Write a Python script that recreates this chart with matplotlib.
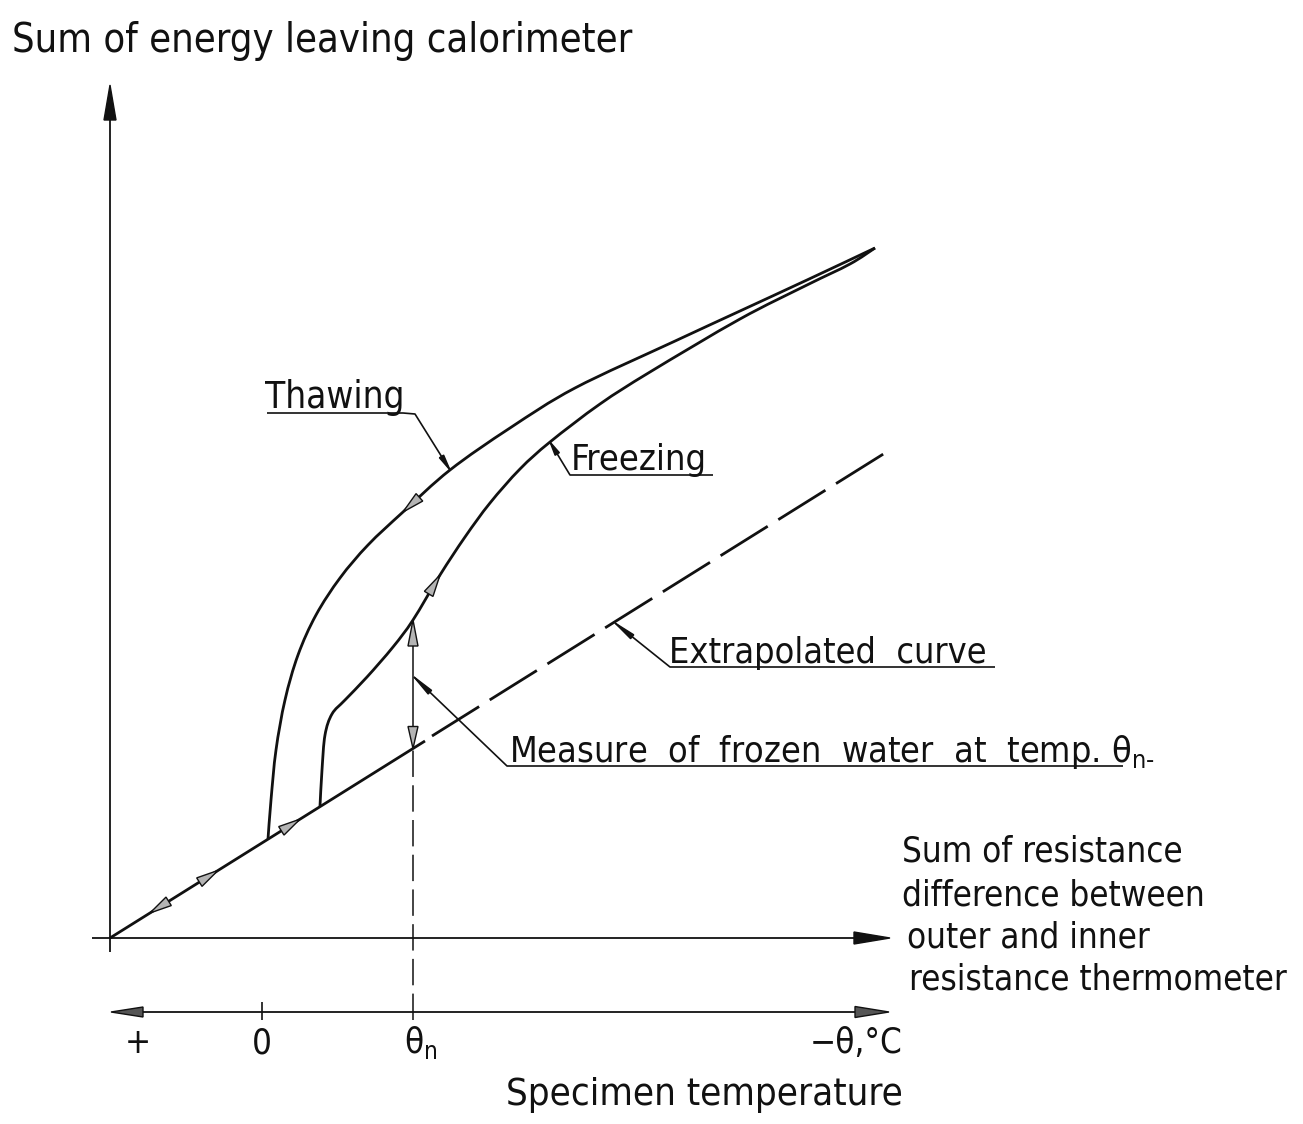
import numpy as np
import matplotlib
matplotlib.use("Agg")
import matplotlib.pyplot as plt
from matplotlib.path import Path
from matplotlib.patches import PathPatch, Polygon

# ---------------------------------------------------------------------------
# Diagram data (units: origin where the energy and resistance axes cross)
# ---------------------------------------------------------------------------
thawing_x = [158, 161, 166, 175, 188, 206, 230, 258, 293, 340, 400, 465, 563, 630, 697, 765]
thawing_y = [99, 138, 188, 238, 283, 323, 360, 393, 426, 468, 510, 550, 596, 627, 658, 690]

freezing_x = [210, 212, 215, 222, 235, 257, 283, 303, 330, 355, 380, 410, 440,
              490, 540, 630, 697, 740, 765]
freezing_y = [132, 168, 203, 224, 238, 261, 291, 318, 363, 401, 435, 469, 496,
              534, 566, 619, 653, 674, 690]

linear_x = [0, 315]
linear_y = [0, 197]
extrapolated_x = [322, 783]
extrapolated_y = [202, 490]

theta_n = 303

temp_tick_x = [28, 152, 303, 793]
temp_tick_labels = ["+", "0", "θ$_\\mathregular{n}$", "−θ,°C"]

title_text = "Sum of energy leaving calorimeter"
resistance_text = ["Sum of resistance", "difference between",
                   "outer and inner", "resistance thermometer"]
temperature_text = "Specimen temperature"
thawing_text = "Thawing"
freezing_text = "Freezing"
extrapolated_text = "Extrapolated  curve"
measure_text = "Measure  of  frozen  water  at  temp. θ$_\\mathregular{n\u2010}$"

# ---------------------------------------------------------------------------
plt.rcParams["font.family"] = ["DejaVu Sans"]
plt.rcParams["font.stretch"] = "condensed"
plt.rcParams["mathtext.fontset"] = "dejavusans"
plt.rcParams["lines.scale_dashes"] = False
plt.rcParams["lines.solid_capstyle"] = "butt"

W, H = 1303, 1124
fig = plt.figure(figsize=(W / 100, H / 100), dpi=100)
ax = fig.add_axes([0, 0, 1, 1])
ax.set_xlim(-110, W - 110)
ax.set_ylim(938 - H, 938)
ax.axis("off")

INK = "#111111"


def smooth_path(xs, ys):
    """Catmull-Rom curve through the given points, as cubic Bezier segments."""
    P = np.column_stack([xs, ys]).astype(float)
    ext = np.vstack([P[0], P, P[-1]])
    verts = [P[0]]
    codes = [Path.MOVETO]
    for i in range(len(P) - 1):
        p0, p1, p2, p3 = ext[i], ext[i + 1], ext[i + 2], ext[i + 3]
        verts += [p1 + (p2 - p0) / 6, p2 - (p3 - p1) / 6, p2]
        codes += [Path.CURVE4] * 3
    return Path(verts, codes)


def head(tip, frm, length, width, fc, lw=1.0, z=5):
    """Triangular arrow head with its point at `tip`, coming from `frm`."""
    tip = np.asarray(tip, float)
    frm = np.asarray(frm, float)
    d = tip - frm
    d /= np.hypot(*d)
    n = np.array([-d[1], d[0]])
    b = tip - d * length
    ax.add_patch(Polygon([tip, b + n * width / 2, b - n * width / 2], closed=True,
                         fc=fc, ec=INK, lw=lw, joinstyle="miter", zorder=z))


# --- axes -----------------------------------------------------------------
ax.plot([0, 0], [-14, 825], color=INK, lw=1.3)
head((0, 853), (0, 800), 35, 12, INK)
ax.plot([-18, 750], [0, 0], color=INK, lw=1.3)
head((780, 0), (700, 0), 36, 12, INK)

# temperature scale
ty = -74
ax.plot([25, 755], [ty, ty], color=INK, lw=1.3)
head((1, ty), (60, ty), 32, 10, "#555555")
head((779, ty), (700, ty), 34, 11, "#555555")
ax.plot([temp_tick_x[1]] * 2, [ty + 10, ty - 8], color=INK, lw=1.2)

# --- curves ---------------------------------------------------------------
ax.plot(linear_x, linear_y, color=INK, lw=2.0)
ax.plot(extrapolated_x, extrapolated_y, color=INK, lw=2.0, dashes=(40, 9))
ax.add_patch(PathPatch(smooth_path(thawing_x, thawing_y), fc="none", ec=INK, lw=2.0))
ax.add_patch(PathPatch(smooth_path(freezing_x, freezing_y), fc="none", ec=INK, lw=2.0))

GREY = "#b4b4b4"
# direction marks on the curves
head((thawing_x[8], thawing_y[8]), (thawing_x[9], thawing_y[9]), 22, 10, GREY)
head((freezing_x[8], freezing_y[8]), (freezing_x[7], freezing_y[7]), 22, 10, GREY)
for u, back in [(40, 60), (108, 90), (190, 170)]:
    head((u, np.interp(u, linear_x, linear_y)),
         (back, np.interp(back, linear_x, linear_y)), 22, 10, GREY)

# frozen-water measure at theta_n
y_lin = np.interp(theta_n, linear_x, linear_y)
y_frz = np.interp(theta_n, freezing_x, freezing_y)
ax.plot([theta_n, theta_n], [y_lin, y_frz], color=INK, lw=1.1)
ax.plot([theta_n, theta_n], [ty - 8, y_lin], color=INK, lw=1.1, dashes=(19, 6))
head((theta_n, y_frz), (theta_n, y_frz - 40), 26, 10, GREY)
head((theta_n, y_lin), (theta_n, y_lin + 40), 22, 10, GREY)

# --- labels with leaders -------------------------------------------------
LW = 1.2
# Thawing
ax.plot([157, 293, 305, 340], [525, 525, 524, 468], color=INK, lw=LW)
head((340, 468), (305, 524), 16, 5, INK)
# Freezing
ax.plot([440, 460, 603], [496, 463, 463], color=INK, lw=LW)
head((440, 496), (460, 463), 14, 5, INK)
# Extrapolated curve
ax.plot([505, 560, 885], [315, 271, 271], color=INK, lw=LW)
head((505, 315), (560, 271), 22, 5, INK)
# Measure of frozen water
ax.plot([304, 397, 1013], [261, 172, 172], color=INK, lw=LW)
head((304, 261), (397, 172), 22, 5, INK)

TXT = dict(color=INK, va="baseline")
ax.text(-98, 886, title_text, fontsize=28.5, ha="left", **TXT)
ax.text(155, 530, thawing_text, fontsize=26.5, ha="left", **TXT)
ax.text(461, 468, freezing_text, fontsize=26, ha="left", **TXT)
ax.text(559, 275, extrapolated_text, fontsize=25.8, ha="left", **TXT)
ax.text(399, 176, measure_text, fontsize=25.8, ha="left", **TXT)

for line, x0, y0 in zip(resistance_text, [792, 792, 797, 799], [76, 33, -10, -52]):
    ax.text(x0, y0, line, fontsize=25, ha="left", **TXT)

label_pos = [(temp_tick_x[0], "center"), (temp_tick_x[1], "center"),
             (temp_tick_x[2] - 9, "left"), (temp_tick_x[3], "right")]
for (x0, ha), lab in zip(label_pos, temp_tick_labels):
    ax.text(x0, -115, lab, fontsize=25, ha=ha, **TXT)
ax.text(594, -167, temperature_text, fontsize=27.5, ha="center", **TXT)

fig.savefig("out.png", dpi=100, facecolor="white")
